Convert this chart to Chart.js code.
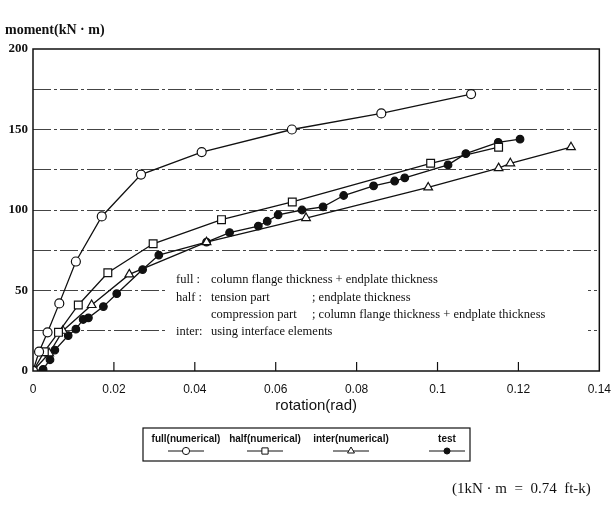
<!DOCTYPE html>
<html>
<head>
<meta charset="utf-8">
<script src="https://cdn.jsdelivr.net/npm/chart.js@4"></script>
<style>
  html, body { margin: 0; padding: 0; background: #fff; }
  #wrap { width: 614px; height: 507px; }
</style>
</head>
<body>
<div id="wrap"><canvas id="momentChart" width="614" height="507"></canvas></div>
<script>
// moment-rotation curves
const fullRot    = [0, 0.0015, 0.0036, 0.0065, 0.0106, 0.017, 0.0267, 0.0417, 0.064, 0.0861, 0.1083];
const fullMoment = [0, 12, 24, 42, 68, 96, 122, 136, 150, 160, 172];

const halfRot    = [0, 0.0028, 0.0063, 0.0112, 0.0185, 0.0297, 0.0466, 0.0641, 0.0983, 0.1151];
const halfMoment = [0, 12, 24, 41, 61, 79, 94, 105, 129, 139];

const interRot    = [0, 0.004, 0.0074, 0.0145, 0.0238, 0.0429, 0.0675, 0.0977, 0.1151, 0.118, 0.133];
const interMoment = [0, 11, 25, 41, 60, 80, 95, 114, 126, 129, 139];

const testRot    = [0, 0.0025, 0.0042, 0.0054, 0.0087, 0.0106, 0.0124, 0.0137, 0.0174, 0.0207, 0.0271, 0.0311,
                    0.0429, 0.0486, 0.0557, 0.0579, 0.0606, 0.0665, 0.0717, 0.0768, 0.0842, 0.0894, 0.0919,
                    0.1026, 0.107, 0.115, 0.1204];
const testMoment = [0, 1, 7, 13, 22, 26, 32, 33, 40, 48, 63, 72,
                    80, 86, 90, 93, 97, 100, 102, 109, 115, 118, 120,
                    128, 135, 142, 144];

const seriesLabels = ['full(numerical)', 'half(numerical)', 'inter(numerical)', 'test'];
const xTickStep = 0.02;
const yTickStep = 25;

const notes = [
    ['full :', 'column flange thickness + endplate thickness', ''],
    ['half :', 'tension part', '; endplate thickness'],
    ['', 'compression part', '; column flange thickness + endplate thickness'],
    ['inter:', 'using interface elements', '']
];

function pairs(xs, ys) {
    return xs.map((x, i) => ({ x: x, y: ys[i] }));
}

function series(label, xs, ys, style, radius, fill) {
    return {
        label: label,
        data: pairs(xs, ys),
        showLine: true,
        borderColor: '#111',
        borderWidth: 1.3,
        pointStyle: style,
        pointRadius: radius,
        pointBorderWidth: 1.2,
        pointBorderColor: '#111',
        pointBackgroundColor: fill,
        tension: 0
    };
}

const serif = "'Liberation Serif', 'Times New Roman', serif";
const sans = "'Liberation Sans', Arial, sans-serif";

// white block behind the explanation text, then the frame, ticks, texts and legend
const decorations = {
    id: 'decorations',
    beforeDatasetsDraw(chart) {
        const c = chart.ctx;
        c.save();
        c.fillStyle = '#fff';
        c.fillRect(168, 268, 420, 72);
        c.restore();
    },
    afterDraw(chart) {
        const c = chart.ctx;
        const a = chart.chartArea;
        const xs = chart.scales.x;
        c.save();

        // frame
        c.strokeStyle = '#111';
        c.lineWidth = 1.5;
        c.strokeRect(a.left, a.top, a.right - a.left, a.bottom - a.top);

        // inward x tick marks
        c.lineWidth = 1.2;
        xs.ticks.forEach((t, i) => {
            if (i === 0 || i === xs.ticks.length - 1) return;
            const px = xs.getPixelForValue(t.value);
            c.beginPath();
            c.moveTo(px, a.bottom);
            c.lineTo(px, a.bottom - 9);
            c.stroke();
        });

        // y axis title
        c.fillStyle = '#111';
        c.font = 'bold 14px ' + serif;
        c.textBaseline = 'middle';
        c.textAlign = 'left';
        c.fillText('moment(kN \u00b7 m)', 5, 30);

        // explanation block
        c.font = '12.5px ' + serif;
        notes.forEach((row, i) => {
            const y = 280 + i * 17.3;
            c.fillText(row[0], 176, y);
            c.fillText(row[1], 211, y);
            if (row[2]) c.fillText(row[2], 312, y);
        });

        // legend
        c.lineWidth = 1.2;
        c.strokeRect(143, 428, 327, 33);
        const centers = [186, 265, 351, 447];
        c.font = 'bold 10px ' + sans;
        c.textAlign = 'center';
        chart.data.datasets.forEach((ds, i) => {
            const cx = centers[i];
            c.fillStyle = '#111';
            c.fillText(ds.label, cx, 439);
            c.strokeStyle = '#111';
            c.lineWidth = 1;
            c.beginPath();
            c.moveTo(cx - 18, 451);
            c.lineTo(cx + 18, 451);
            c.stroke();
            c.fillStyle = ds.pointBackgroundColor;
            c.lineWidth = 1;
            Chart.helpers.drawPoint(c, {
                pointStyle: ds.pointStyle,
                radius: ds.pointRadius * 0.8,
                rotation: 0,
                borderWidth: 1
            }, cx, 451);
        });

        // unit note
        c.fillStyle = '#111';
        c.textAlign = 'left';
        c.font = '15px ' + serif;
        c.fillText('(1kN \u00b7 m  =  0.74  ft-k)', 452, 489);
        c.restore();
    }
};

const ctx = document.getElementById('momentChart').getContext('2d');
const momentChart = new Chart(ctx, {
    type: 'scatter',
    data: {
        datasets: [
            series(seriesLabels[0], fullRot, fullMoment, 'circle', 4.5, '#fff'),
            series(seriesLabels[1], halfRot, halfMoment, 'rect', 5.5, '#fff'),
            series(seriesLabels[2], interRot, interMoment, 'triangle', 5, '#fff'),
            series(seriesLabels[3], testRot, testMoment, 'circle', 3.8, '#111')
        ]
    },
    options: {
        responsive: false,
        animation: false,
        layout: { padding: { top: 49, right: 0, bottom: 92, left: 0 } },
        plugins: {
            legend: { display: false },
            tooltip: { enabled: false }
        },
        scales: {
            x: {
                type: 'linear',
                min: 0,
                max: 0.14,
                afterFit: s => { s.height = 44; },
                grid: { display: false },
                border: { display: false },
                ticks: {
                    stepSize: xTickStep,
                    padding: 3,
                    color: '#111',
                    font: { family: sans, size: 12 },
                    callback: v => String(+v.toFixed(2))
                },
                title: {
                    display: true,
                    text: 'rotation(rad)',
                    color: '#111',
                    font: { family: sans, size: 15 },
                    padding: { top: 0, bottom: 0 }
                }
            },
            y: {
                min: 0,
                max: 200,
                afterFit: s => { s.width = 33; },
                border: { display: false, dash: [18, 3, 3, 3] },
                grid: {
                    drawTicks: false,
                    lineWidth: 1,
                    color: c => (c.tick && (c.tick.value === 0 || c.tick.value === 200)) ? 'rgba(0,0,0,0)' : '#444'
                },
                ticks: {
                    stepSize: yTickStep,
                    padding: 5,
                    color: '#111',
                    font: { family: serif, size: 13, weight: 'bold' },
                    callback: v => (v % 50 === 0 ? String(v) : '')
                }
            }
        }
    },
    plugins: [decorations]
});
</script>
</body>
</html>
